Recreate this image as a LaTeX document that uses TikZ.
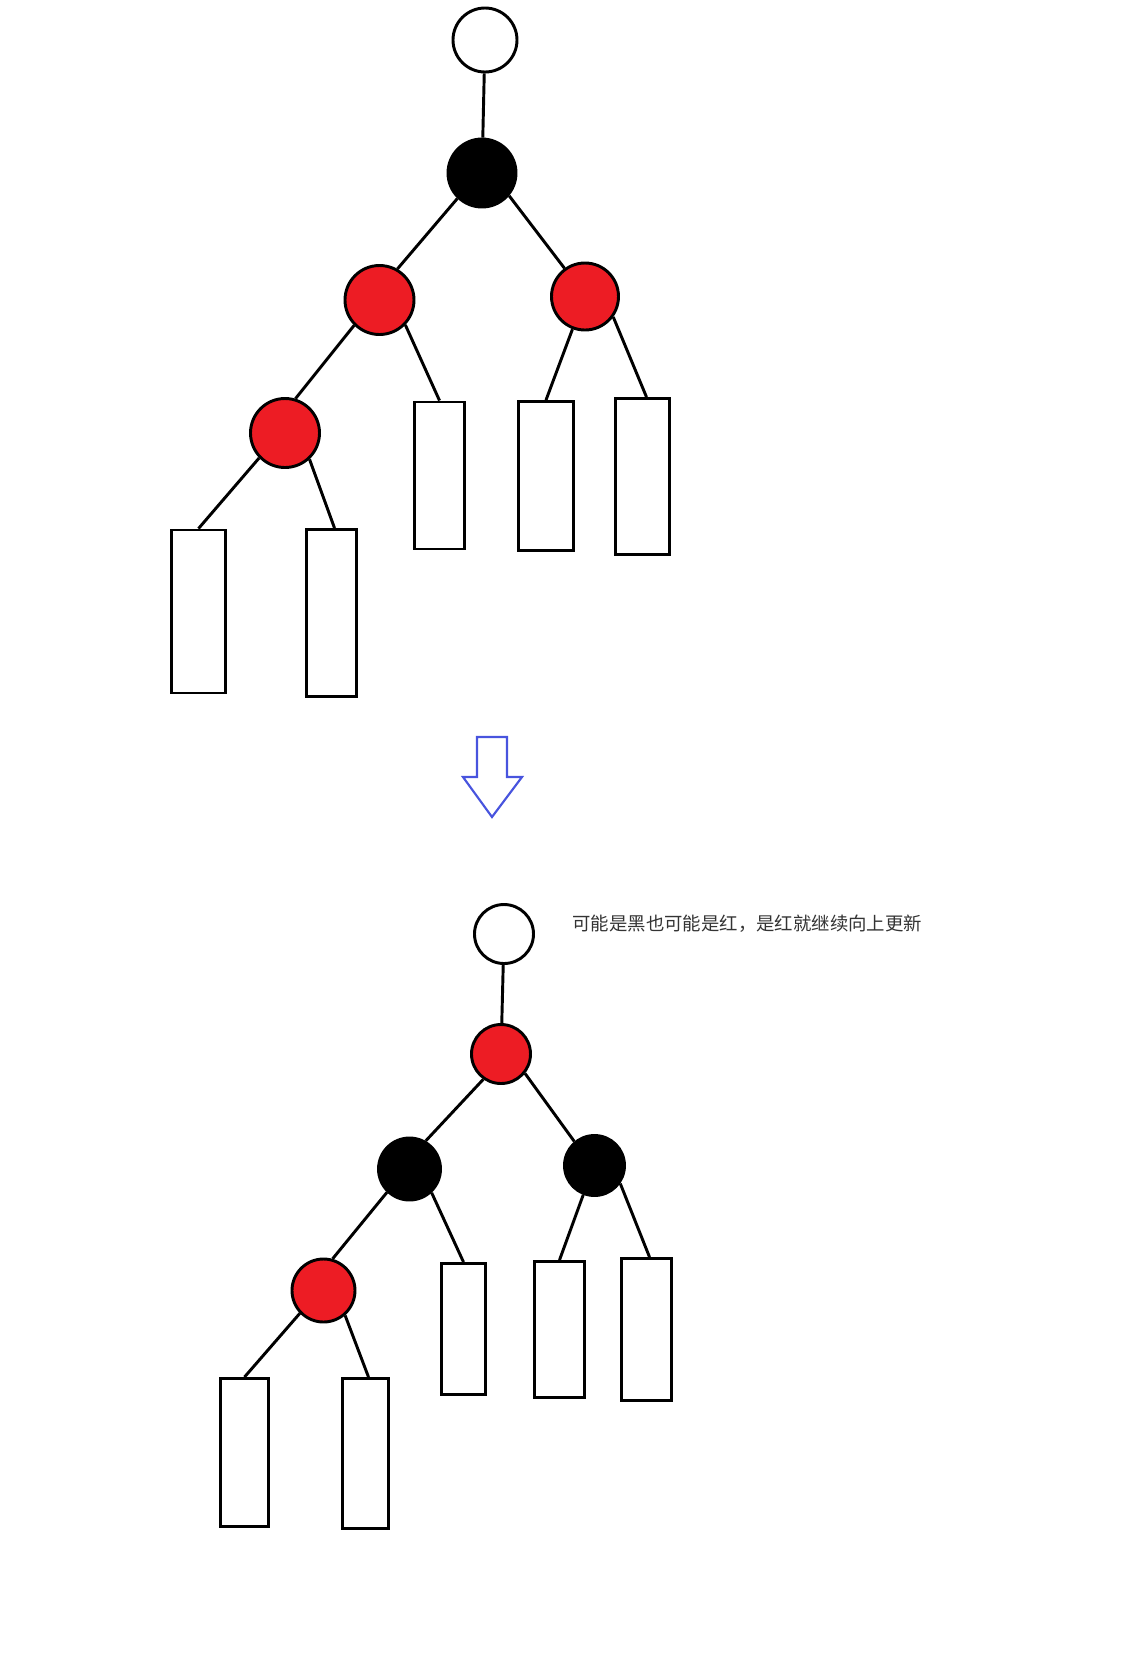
\documentclass[tikz,border=0pt]{standalone}
\usepackage{fontspec}
\newfontfamily\cjk{Noto Sans CJK SC}
\usetikzlibrary{positioning}

\begin{document}
\begin{tikzpicture}[
		x=0.75pt,
		y=-0.75pt,
		line width=2.2pt,
		tree node/.style={
			circle,
			draw,
			inner sep=0pt,
			minimum size=#1*0.75pt
		},
		white node/.style={tree node=#1, fill=white},
		black node/.style={tree node=#1, fill=black},
		red node/.style={tree node=#1, fill=rbred},
		leaf box/.style={
			draw,
			fill=white,
			inner sep=0pt
		},
		note/.style={font=\cjk\fontsize{13.8pt}{16pt}\selectfont, text=notegray, anchor=west, inner sep=0pt}
		]
		\definecolor{rbred}{RGB}{237,28,36}
		\definecolor{notegray}{RGB}{51,51,51}
		\definecolor{arrowblue}{RGB}{72,84,222}
		\useasboundingbox (0,0) rectangle (1137,1661);

		% before
		\node[white node=64] (a0) at (485,40) {};
		\node[black node=68] (a1) at (482,173) {};
		\node[red node=69] (a2) at (379.5,300) {};
		\node[red node=67] (a3) at (585,296.5) {};
		\node[red node=69] (a4) at (285,433) {};
		\node[leaf box, minimum width=54*0.75pt, minimum height=163*0.75pt] (ab1) at (198.5,611.5) {};
		\node[leaf box, minimum width=50*0.75pt, minimum height=167*0.75pt] (ab2) at (331.5,613) {};
		\node[leaf box, minimum width=50*0.75pt, minimum height=147*0.75pt] (ab3) at (439.5,475.5) {};
		\node[leaf box, minimum width=55*0.75pt, minimum height=149*0.75pt] (ab4) at (546,476) {};
		\node[leaf box, minimum width=54*0.75pt, minimum height=156*0.75pt] (ab5) at (642.5,476.5) {};

		\path[draw]
		(a0) -- (a1)
		(a1.-134) -- (a2.60)
		(a1.-40) -- (a3.126)
		(a2.-135) -- (a4.73)
		(a2.-44) -- (ab3.north)
		(a3.-111) -- (ab4.north)
		(a3.-36) -- ([xshift=4*0.75pt]ab5.north)
		(a4.-136) -- (ab1.north)
		(a4.-47) -- ([xshift=3*0.75pt]ab2.north);

		% arrow
		\draw[arrowblue, line width=1.6pt, line join=miter]
		(477,737) -- (507,737) -- (507,777) -- (522,777) -- (492,817)
		-- (463,777) -- (477,777) -- cycle;

		% after
		\node[white node=59] (b0) at (504,934) {};
		\node[red node=59] (b1) at (501,1054) {};
		\node[black node=62] (b2) at (409.5,1169) {};
		\node[black node=60] (b3) at (594.5,1165.5) {};
		\node[red node=63] (b4) at (323.5,1290.5) {};
		\node[leaf box, minimum width=48*0.75pt, minimum height=148*0.75pt] (bb1) at (244.5,1452.5) {};
		\node[leaf box, minimum width=46*0.75pt, minimum height=150*0.75pt] (bb2) at (365.5,1453.5) {};
		\node[leaf box, minimum width=44*0.75pt, minimum height=131*0.75pt] (bb3) at (463.5,1329) {};
		\node[leaf box, minimum width=50*0.75pt, minimum height=136*0.75pt] (bb4) at (559.5,1329.5) {};
		\node[leaf box, minimum width=50*0.75pt, minimum height=142*0.75pt] (bb5) at (646.5,1329.5) {};
		\node[note] (tip) at (571,924) {可能是黑也可能是红，是红就继续向上更新};

		\path[draw]
		(b0) -- (b1)
		(b1.-125) -- (b2.60)
		(b1.-39) -- (b3.130)
		(b2.-134) -- (b4.74)
		(b2.-47) -- (bb3.north)
		(b3.-111) -- (bb4.north)
		(b3.-35) -- ([xshift=3*0.75pt]bb5.north)
		(b4.-136) -- (bb1.north)
		(b4.-49) -- ([xshift=3*0.75pt]bb2.north);
	\end{tikzpicture}
\end{document}
